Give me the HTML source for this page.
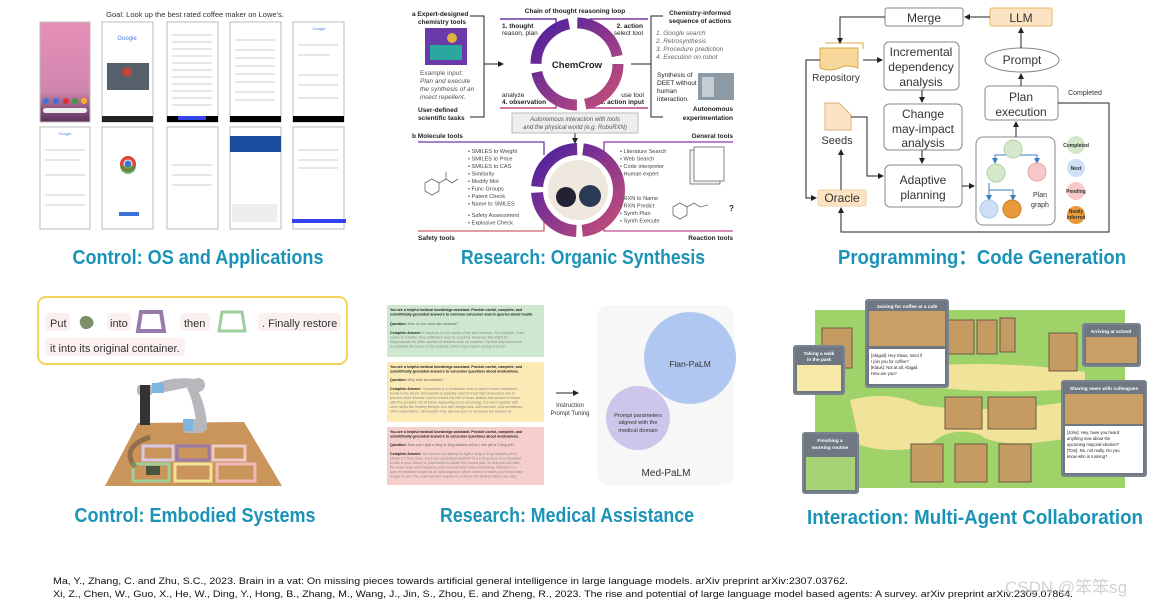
<!DOCTYPE html>
<html><head><meta charset="utf-8"><style>
html,body{margin:0;padding:0;background:#fff;width:1173px;height:607px;overflow:hidden}
svg{display:block}
text{font-family:"Liberation Sans","Noto Sans CJK SC",sans-serif}
.t{font-weight:bold;fill:#1b93b6;font-size:20px}
</style></head><body>
<svg width="1173" height="607" viewBox="0 0 1173 607" xmlns="http://www.w3.org/2000/svg">
<defs>
<linearGradient id="pk" x1="0" y1="0" x2="0" y2="1"><stop offset="0" stop-color="#e78fb8"/><stop offset="0.7" stop-color="#cf86ad"/><stop offset="1" stop-color="#5a2f5a"/></linearGradient>
<linearGradient id="ring" x1="0" y1="0" x2="1" y2="1"><stop offset="0" stop-color="#4b1fa0"/><stop offset="1" stop-color="#c74f7a"/></linearGradient>
<marker id="ar" markerWidth="6" markerHeight="6" refX="5" refY="3" orient="auto"><path d="M0,0 L6,3 L0,6z" fill="#222"/></marker>
<marker id="ab" markerWidth="6" markerHeight="6" refX="5" refY="3" orient="auto"><path d="M0,0 L6,3 L0,6z" fill="#3a7fc1"/></marker>
</defs>

<!-- ============ PANEL 1: phones ============ -->
<text x="195" y="17" font-size="7.5" text-anchor="middle" fill="#333">Goal: Look up the best rated coffee maker on Lowe's.</text>
<g stroke="#bbb" stroke-width="1" fill="#fff">
<rect x="40" y="22" width="50" height="100" fill="url(#pk)"/>
<rect x="102" y="22" width="51" height="100"/>
<rect x="167" y="22" width="51" height="100"/>
<rect x="230" y="22" width="51" height="100"/>
<rect x="293" y="22" width="51" height="100"/>
<rect x="40" y="127" width="50" height="102"/>
<rect x="102" y="127" width="51" height="102"/>
<rect x="167" y="127" width="51" height="102"/>
<rect x="230" y="127" width="51" height="102"/>
<rect x="293" y="127" width="51" height="102"/>
</g>
<rect x="43" y="108" width="44" height="5" rx="2.5" fill="#eee"/>
<g fill="#3b73d6"><circle cx="46" cy="101" r="3"/><circle cx="56" cy="101" r="3"/></g>
<circle cx="66" cy="101" r="3" fill="#d93030"/><circle cx="75" cy="101" r="3" fill="#3b9a3b"/><circle cx="84" cy="101" r="3" fill="#f2b020"/>
<rect x="167" y="116" width="51" height="6" fill="#000"/><rect x="178" y="116" width="28" height="4" fill="#3344ee"/>
<rect x="230" y="116" width="51" height="6" fill="#000"/>
<rect x="293" y="116" width="51" height="6" fill="#000"/>
<rect x="102" y="116" width="51" height="6" fill="#222"/>
<text x="127" y="40" font-size="6" text-anchor="middle" fill="#4a7fe0">Google</text>
<rect x="107" y="63" width="42" height="27" fill="#55606a"/>
<circle cx="127" cy="72" r="5" fill="#c0453a"/>
<text x="319" y="30" font-size="4" text-anchor="middle" fill="#4a7fe0">Google</text>
<text x="65" y="135" font-size="4" text-anchor="middle" fill="#4a7fe0">Google</text>
<circle cx="128" cy="164" r="8" fill="#e0453a"/><circle cx="128" cy="164" r="4" fill="#3b73d6" stroke="#fff" stroke-width="1"/>
<path d="M120,166 A8,8 0 0 0 136,166" fill="#3b9a3b" opacity=".7"/>
<rect x="119" y="212" width="20" height="4" fill="#3b73d6"/>
<rect x="230" y="136" width="51" height="16" fill="#1a4fa0"/>
<rect x="232" y="204" width="45" height="18" fill="#eee"/>
<rect x="292" y="219" width="54" height="4" fill="#3344ee"/>
<g stroke="#ddd" stroke-width="1.5">
<line x1="172" y1="35" x2="212" y2="35"/><line x1="172" y1="42" x2="212" y2="42"/><line x1="172" y1="49" x2="212" y2="49"/><line x1="172" y1="56" x2="212" y2="56"/><line x1="172" y1="63" x2="212" y2="63"/><line x1="172" y1="70" x2="212" y2="70"/><line x1="172" y1="77" x2="212" y2="77"/><line x1="172" y1="84" x2="212" y2="84"/><line x1="172" y1="91" x2="212" y2="91"/><line x1="172" y1="98" x2="212" y2="98"/><line x1="172" y1="105" x2="212" y2="105"/>
<line x1="235" y1="40" x2="275" y2="40"/><line x1="235" y1="50" x2="275" y2="50"/><line x1="235" y1="58" x2="275" y2="58"/><line x1="235" y1="66" x2="275" y2="66"/><line x1="235" y1="74" x2="275" y2="74"/><line x1="235" y1="82" x2="275" y2="82"/><line x1="235" y1="92" x2="275" y2="92"/><line x1="235" y1="100" x2="275" y2="100"/>
<line x1="298" y1="45" x2="338" y2="45"/><line x1="298" y1="55" x2="330" y2="55"/><line x1="298" y1="75" x2="338" y2="75"/><line x1="298" y1="85" x2="338" y2="85"/><line x1="298" y1="98" x2="338" y2="98"/>
<line x1="45" y1="150" x2="85" y2="150"/><line x1="45" y1="160" x2="80" y2="160"/><line x1="45" y1="175" x2="85" y2="175"/><line x1="45" y1="195" x2="85" y2="195"/><line x1="45" y1="205" x2="85" y2="205"/>
<line x1="172" y1="165" x2="212" y2="165"/><line x1="172" y1="175" x2="212" y2="175"/><line x1="172" y1="185" x2="212" y2="185"/>
<line x1="298" y1="150" x2="338" y2="150"/><line x1="298" y1="160" x2="338" y2="160"/><line x1="298" y1="168" x2="338" y2="168"/>
</g>
<text x="198" y="264" class="t" textLength="251" lengthAdjust="spacingAndGlyphs" text-anchor="middle">Control: OS and Applications</text>

<!-- ============ PANEL 2: ChemCrow ============ -->
<g font-size="6.5" fill="#222">
<text x="412" y="16" font-weight="bold">a Expert-designed</text>
<text x="418" y="24" font-weight="bold">chemistry tools</text>
<text x="420" y="75" fill="#555">Example input:</text>
<text x="420" y="83" fill="#555" font-style="italic">Plan and execute</text>
<text x="420" y="91" fill="#555" font-style="italic">the synthesis of an</text>
<text x="420" y="99" fill="#555" font-style="italic">insect repellent.</text>
<text x="418" y="112" font-weight="bold">User-defined</text>
<text x="418" y="120" font-weight="bold">scientific  tasks</text>
<text x="575" y="13" text-anchor="middle" font-weight="bold">Chain of thought reasoning loop</text>
<text x="502" y="28" font-weight="bold">1. thought</text>
<text x="502" y="35">reason, plan</text>
<text x="643" y="28" text-anchor="end" font-weight="bold">2. action</text>
<text x="643" y="35" text-anchor="end">select tool</text>
<text x="502" y="97">analyze</text>
<text x="502" y="104" font-weight="bold">4. observation</text>
<text x="644" y="97" text-anchor="end">use tool</text>
<text x="644" y="104" text-anchor="end" font-weight="bold">3. action input</text>
<text x="700" y="15" text-anchor="middle" font-weight="bold">Chemistry-informed</text>
<text x="700" y="23" text-anchor="middle" font-weight="bold">sequence of actions</text>
<g font-style="italic" fill="#666"><text x="656" y="35">1. Google search</text><text x="656" y="43">2. Retrosynthesis</text><text x="656" y="51">3. Procedure prediction</text><text x="656" y="59">4. Execution on robot</text></g>
<text x="657" y="77">Synthesis of</text><text x="657" y="85">DEET without</text><text x="657" y="93">human</text><text x="657" y="101">interaction.</text>
<text x="733" y="111" text-anchor="end" font-weight="bold">Autonomous</text>
<text x="733" y="120" text-anchor="end" font-weight="bold">experimentation</text>
<text x="412" y="138" font-weight="bold">b Molecule tools</text>
<text x="733" y="138" text-anchor="end" font-weight="bold">General tools</text>
<text x="418" y="240" font-weight="bold">Safety tools</text>
<text x="733" y="240" text-anchor="end" font-weight="bold">Reaction tools</text>
</g>
<rect x="425" y="28" width="42" height="37" fill="#6a3aa8"/><rect x="430" y="45" width="32" height="15" fill="#2aa8a0"/><circle cx="452" cy="38" r="5" fill="#e0b040"/>
<rect x="698" y="73" width="36" height="27" fill="#8c9aa6"/><rect x="702" y="77" width="12" height="20" fill="#c5cdd5"/>
<g fill="none" stroke="#222" stroke-width="1">
<polyline points="470,16 484,16 484,117 470,117"/><line x1="484" y1="64" x2="503" y2="64" marker-end="url(#ar)"/>
<polyline points="663,16 651,16 651,117 663,117"/><line x1="631" y1="64" x2="651" y2="64"/>
<line x1="575" y1="133" x2="575" y2="143" marker-end="url(#ar)"/>
</g>
<g fill="none" stroke-width="1.5">
<polyline points="500,19 556,19 556,30" stroke="#6a3aa8"/><polyline points="648,19 590,19 590,30" stroke="#7a3aa0"/>
<polyline points="500,108 556,108 556,98" stroke="#c04a7a"/><polyline points="648,108 590,108 590,98" stroke="#b04a88"/>
</g>
<circle cx="577" cy="64" r="41" fill="none" stroke="url(#ring)" stroke-width="11" stroke-dasharray="56 8.4"/>
<circle cx="577" cy="64" r="28" fill="#fff"/>
<text x="577" y="68" font-size="9.5" font-weight="bold" text-anchor="middle" fill="#222">ChemCrow</text>
<rect x="512" y="113" width="126" height="20" fill="#eee" stroke="#bbb"/>
<text x="575" y="121" font-size="6" font-style="italic" text-anchor="middle" fill="#555">Autonomous interaction with tools</text>
<text x="575" y="129" font-size="6" font-style="italic" text-anchor="middle" fill="#555">and the physical world (e.g. RoboRXN)</text>
<g fill="none" stroke-width="1.3">
<polyline points="418,142 544,142 544,155" stroke="#6a3aa8"/><polyline points="418,231 544,231 544,220" stroke="#d06070"/>
<polyline points="733,142 604,142 604,155" stroke="#8a3ab0"/><polyline points="733,231 604,231 604,220" stroke="#c04a8a"/>
</g>
<circle cx="578" cy="190" r="41" fill="none" stroke="url(#ring)" stroke-width="12" stroke-dasharray="60 6"/>
<circle cx="578" cy="190" r="30" fill="#efe8de"/>
<circle cx="566" cy="197" r="10" fill="#223"/><circle cx="590" cy="196" r="11" fill="#2a3a55"/>
<g font-size="5.6" fill="#444">
<text x="468" y="153">• SMILES to Weight</text><text x="468" y="160.5">• SMILES to Price</text><text x="468" y="168">• SMILES to CAS</text><text x="468" y="175.5">• Similarity</text><text x="468" y="183">• Modify Mol</text><text x="468" y="190.5">• Func Groups</text><text x="468" y="198">• Patent Check</text><text x="468" y="205.5">• Name to SMILES</text><text x="468" y="217">• Safety Assessment</text><text x="468" y="224.5">• Explosive Check</text>
<text x="620" y="153">• Literature Search</text><text x="620" y="160.5">• Web Search</text><text x="620" y="168">• Code interpreter</text><text x="620" y="175.5">• Human expert</text>
<text x="620" y="200">• RXN to Name</text><text x="620" y="207.5">• RXN Predict</text><text x="620" y="215">• Synth Plan</text><text x="620" y="222.5">• Synth Execute</text>
</g>
<g fill="none" stroke="#666" stroke-width=".8">
<polygon points="425,183 432,179 439,183 439,191 432,195 425,191"/><polyline points="439,183 446,179 452,183 458,179"/><line x1="446" y1="179" x2="446" y2="172"/>
<polygon points="673,207 680,203 687,207 687,215 680,219 673,215"/><polyline points="687,207 694,203 700,207 708,205"/>
<rect x="690" y="150" width="30" height="34" fill="#f4f4f4"/><rect x="694" y="147" width="30" height="34" fill="#fff"/>
</g>
<text x="729" y="211" font-size="8" font-weight="bold" fill="#222">?</text>
<text x="583" y="264" class="t" textLength="244" lengthAdjust="spacingAndGlyphs" text-anchor="middle">Research: Organic Synthesis</text>

<!-- ============ PANEL 3: Code generation ============ -->
<g fill="#fff" stroke="#888" stroke-width="1">
<rect x="885" y="8" width="78" height="18" rx="2"/>
<rect x="884" y="42" width="75" height="48" rx="5"/>
<rect x="884" y="104" width="78" height="46" rx="5"/>
<rect x="885" y="165" width="77" height="42" rx="5"/>
<rect x="985" y="86" width="73" height="34" rx="4"/>
<rect x="976" y="137" width="79" height="88" rx="7"/>
<ellipse cx="1022" cy="60" rx="37" ry="12"/>
</g>
<rect x="990" y="8" width="62" height="18" rx="2" fill="#fbe3c4" stroke="#e8b860"/>
<rect x="818" y="190" width="48" height="16" rx="2" fill="#fbe3c4" stroke="#f0d2a0"/>
<path d="M820,48 h38 v20 q-10,-4 -19,0 t-19,0z" fill="#f7d79a" stroke="#d9a84a"/>
<path d="M825,43 h38 v6" fill="none" stroke="#d9a84a"/>
<path d="M825,103 h14 l12,12 v15 h-26z" fill="#fbe3c4" stroke="#d9b07a"/>
<g font-size="12" fill="#333" text-anchor="middle">
<text x="924" y="22">Merge</text><text x="1021" y="22">LLM</text>
<text x="921" y="56">Incremental</text><text x="921" y="71">dependency</text><text x="921" y="86">analysis</text>
<text x="923" y="118">Change</text><text x="923" y="133">may-impact</text><text x="923" y="147">analysis</text>
<text x="923" y="184">Adaptive</text><text x="923" y="199">planning</text>
<text x="1022" y="64">Prompt</text>
<text x="1021" y="101">Plan</text><text x="1021" y="116">execution</text>
<text x="842" y="202">Oracle</text>
<text x="836" y="81" font-size="10">Repository</text>
<text x="837" y="144" font-size="11">Seeds</text>
<text x="1040" y="197" font-size="7">Plan</text><text x="1040" y="207" font-size="7">graph</text>
<text x="1085" y="95" font-size="7">Completed</text>
</g>
<g fill="none" stroke="#222" stroke-width="1">
<line x1="990" y1="17" x2="965" y2="17" marker-end="url(#ar)"/>
<polyline points="885,17 840,17 840,43" marker-end="url(#ar)"/>
<line x1="863" y1="60" x2="882" y2="60" marker-end="url(#ar)"/>
<polyline points="820,60 806,60 806,198 816,198" marker-end="url(#ar)"/>
<line x1="922" y1="90" x2="922" y2="102" marker-end="url(#ar)"/>
<line x1="922" y1="150" x2="922" y2="163" marker-end="url(#ar)"/>
<polyline points="851,117 867,117 867,176 883,176" marker-end="url(#ar)"/>
<line x1="962" y1="186" x2="974" y2="186" marker-end="url(#ar)"/>
<line x1="1016" y1="137" x2="1016" y2="122" marker-end="url(#ar)"/>
<line x1="1021" y1="86" x2="1021" y2="74" marker-end="url(#ar)"/>
<line x1="1021" y1="48" x2="1021" y2="28" marker-end="url(#ar)"/>
<polyline points="1058,103 1109,103 1109,232 841,232 841,208" marker-end="url(#ar)"/>
<line x1="841" y1="190" x2="841" y2="150" marker-end="url(#ar)"/>
</g>
<g fill="none" stroke="#3a7fc1" stroke-width="1">
<polyline points="1013,158 1013,155 995,155 995,163" marker-end="url(#ab)"/>
<polyline points="1013,155 1037,155 1037,163" marker-end="url(#ab)"/>
<polyline points="989,183 989,190 989,200" marker-end="url(#ab)"/>
<polyline points="989,190 1013,190 1013,200" marker-end="url(#ab)"/>
</g>
<circle cx="1013" cy="149" r="9" fill="#d5e8cc" stroke="#b5d0a8"/>
<circle cx="996" cy="173" r="9" fill="#d5e8cc" stroke="#b5d0a8"/>
<circle cx="1037" cy="172" r="9" fill="#f6c8c8" stroke="#e0a8a8"/>
<circle cx="989" cy="209" r="9" fill="#cfdff5" stroke="#b0c8e8"/>
<circle cx="1012" cy="209" r="9" fill="#e89a38" stroke="#c87a20"/>
<circle cx="1076" cy="145" r="9" fill="#d5e8cc"/>
<circle cx="1076" cy="168" r="9" fill="#cfdff5"/>
<circle cx="1076" cy="191" r="9" fill="#f6c8c8"/>
<circle cx="1076" cy="215" r="9" fill="#e89a38"/>
<g font-size="5" font-weight="bold" fill="#333" text-anchor="middle">
<text x="1076" y="147">Completed</text><text x="1076" y="170">Next</text><text x="1076" y="193">Pending</text><text x="1076" y="213">Newly</text><text x="1076" y="219">inferred</text>
</g>
<text x="982" y="264" class="t" textLength="288" lengthAdjust="spacingAndGlyphs" text-anchor="middle">Programming：Code Generation</text>

<!-- ============ PANEL 4: Embodied ============ -->
<rect x="38" y="297" width="309" height="67" rx="8" fill="#fff" stroke="#f3d35a" stroke-width="2"/>
<g fill="#fbf0f0"><rect x="45" y="313" width="25" height="18" rx="4"/><rect x="107" y="313" width="24" height="18" rx="4"/><rect x="180" y="313" width="30" height="18" rx="4"/><rect x="258" y="313" width="83" height="18" rx="4"/><rect x="45" y="338" width="140" height="18" rx="4"/></g>
<g font-size="11" fill="#333">
<text x="50" y="327">Put</text><text x="110" y="327">into</text><text x="184" y="327">then</text><text x="262" y="327">. Finally restore</text><text x="50" y="352">it into its original container.</text>
</g>
<path d="M82,317 q6,-3 10,2 q4,5 -2,9 q-6,3 -9,-2 q-3,-5 1,-9z" fill="#7a8f6a"/>
<path d="M141,312 h20 l3,19 h-26z" fill="none" stroke="#9a7aaa" stroke-width="4"/>
<path d="M222,312 h20 l3,19 h-26z" fill="none" stroke="#9ecf9a" stroke-width="3"/>
<polygon points="138,423 244,422 282,486 105,486" fill="#c9955a"/>
<g fill="none" stroke-width="3">
<rect x="143" y="446" width="30" height="14" stroke="#d8c8e8"/><rect x="177" y="446" width="32" height="14" stroke="#9a7aaa"/><rect x="213" y="446" width="32" height="14" stroke="#f0c8c8"/>
<rect x="133" y="464" width="36" height="17" stroke="#9ecf9a"/><rect x="175" y="464" width="36" height="17" stroke="#f1e39a"/><rect x="217" y="464" width="38" height="17" stroke="#f2b8b8"/>
</g>
<rect x="146" y="466" width="14" height="9" fill="#4a5540"/>
<path d="M150,437 q-30,10 -15,30" stroke="#5a4a3a" stroke-width="5" fill="none" opacity=".5"/>
<g fill="#b8b8bc">
<rect x="137" y="385" width="16" height="10" rx="3"/><rect x="140" y="385" width="10" height="40" fill="#333"/>
<path d="M150,386 q20,-10 45,-7 l10,5 l-40,8z"/><circle cx="198" cy="385" r="7"/>
<path d="M195,385 q12,20 12,45 h-10 q-2,-25 -10,-42z"/><rect x="183" y="419" width="22" height="14" rx="4"/>
</g>
<rect x="152" y="383" width="12" height="10" fill="#7db6e0"/><rect x="183" y="419" width="10" height="12" fill="#7db6e0"/>
<text x="195" y="522" class="t" textLength="241" lengthAdjust="spacingAndGlyphs" text-anchor="middle">Control: Embodied Systems</text>

<!-- ============ PANEL 5: Medical ============ -->
<rect x="387" y="305" width="157" height="52" fill="#cfe7cf"/>
<rect x="387" y="362" width="157" height="60" fill="#fbeab5"/>
<rect x="387" y="427" width="157" height="58" fill="#f6cfcc"/>
<g font-size="3.6" fill="#222">
<text x="390" y="311" font-weight="bold">You are a helpful medical knowledge assistant. Provide useful, complete, and</text>
<text x="390" y="315.5" font-weight="bold">scientifically-grounded answers to common consumer search queries about health.</text>
<text x="390" y="325" fill="#666"><tspan font-weight="bold" fill="#222">Question:</tspan> How do you treat skin redness?</text>
<text x="390" y="334" fill="#888"><tspan font-weight="bold" fill="#222">Complete Answer:</tspan> It depends on the cause of the skin redness. For example, if the</text>
<text x="390" y="338.5" fill="#888">cause is cellulitis, then antibiotics may be required. However, this might be</text>
<text x="390" y="343" fill="#888">inappropriate for other causes of redness such as eczema. The first step should be</text>
<text x="390" y="347.5" fill="#888">to establish the cause of the redness, which may require seeing a doctor.</text>
<text x="390" y="368" font-weight="bold">You are a helpful medical knowledge assistant. Provide useful, complete, and</text>
<text x="390" y="372.5" font-weight="bold">scientifically-grounded answers to consumer questions about medications.</text>
<text x="390" y="381" fill="#666"><tspan font-weight="bold" fill="#222">Question:</tspan> Why take simvastatin?</text>
<text x="390" y="390" fill="#888"><tspan font-weight="bold" fill="#222">Complete Answer:</tspan> Simvastatin is a medication that is used to lower cholesterol</text>
<text x="390" y="394.5" fill="#888">levels in the blood. Simvastatin is typically used to treat high cholesterol and to</text>
<text x="390" y="399" fill="#888">prevent heart disease, and to reduce the risk of heart attacks and strokes in those</text>
<text x="390" y="403.5" fill="#888">with the greatest risk of these happening (or re-occurring). It's used together with</text>
<text x="390" y="408" fill="#888">other steps like healthy lifestyle and diet, weight-loss, and exercise, and sometimes</text>
<text x="390" y="412.5" fill="#888">other medications. Simvastatin may also be used to decrease the amount of...</text>
<text x="390" y="433" font-weight="bold">You are a helpful medical knowledge assistant. Provide useful, complete, and</text>
<text x="390" y="437.5" font-weight="bold">scientifically-grounded answers to consumer questions about medications.</text>
<text x="390" y="446" fill="#666"><tspan font-weight="bold" fill="#222">Question:</tspan> How can I split a 3mg or 4mg warfarin pill so I can get a 2.5mg pill?</text>
<text x="390" y="455" fill="#888"><tspan font-weight="bold" fill="#222">Complete Answer:</tspan> You should not attempt to split a 3mg or 4mg warfarin pill to</text>
<text x="390" y="459.5" fill="#888">obtain a 2.5mg dose. If you are prescribed warfarin in a 2.5mg dose, it is important</text>
<text x="390" y="464" fill="#888">to talk to your doctor or pharmacist to obtain the correct pills, so that you can take</text>
<text x="390" y="468.5" fill="#888">the exact dose and frequency your medical team have prescribed. Warfarin is a</text>
<text x="390" y="473" fill="#888">type of medicine known as an anticoagulant, which means it makes your blood take</text>
<text x="390" y="477.5" fill="#888">longer to clot. The exact amount required to achieve the desired effect can vary.</text>
</g>
<line x1="556" y1="393" x2="578" y2="393" stroke="#222" marker-end="url(#ar)"/>
<text x="570" y="407" font-size="6" text-anchor="middle" fill="#333">Instruction</text>
<text x="570" y="415" font-size="6" text-anchor="middle" fill="#333">Prompt Tuning</text>
<rect x="597" y="305" width="137" height="180" rx="12" fill="#f7f7f7"/>
<circle cx="690" cy="358" r="46" fill="#b0c7f2"/>
<circle cx="638" cy="418" r="32" fill="#c9c0e8" opacity=".9"/>
<text x="690" y="367" font-size="8.5" text-anchor="middle" fill="#333">Flan-PaLM</text>
<g font-size="5.6" text-anchor="middle" fill="#333"><text x="638" y="417">Prompt parameters</text><text x="638" y="424">aligned with the</text><text x="638" y="432">medical domain</text></g>
<text x="666" y="476" font-size="10" text-anchor="middle" fill="#333">Med-PaLM</text>
<text x="567" y="522" class="t" textLength="254" lengthAdjust="spacingAndGlyphs" text-anchor="middle">Research: Medical Assistance</text>

<!-- ============ PANEL 6: Multi-agent ============ -->
<rect x="815" y="310" width="310" height="178" fill="#9fd36a"/>
<path d="M850,400 q40,-10 70,5 q70,10 160,-5 q10,30 -10,38 q-70,12 -90,-3 q-30,-10 -50,10 q-40,10 -70,0z" fill="#f2e39a"/>
<path d="M915,367 q80,-8 170,5 v16 q-90,8 -170,-3z" fill="#f2e39a"/>
<g fill="#c69b62" stroke="#6a5a48" stroke-width="1">
<rect x="945" y="397" width="37" height="32"/><rect x="988" y="397" width="48" height="32"/>
<rect x="911" y="444" width="32" height="38"/><rect x="955" y="444" width="32" height="38"/><rect x="999" y="444" width="32" height="38"/>
<rect x="948" y="320" width="26" height="34"/><rect x="977" y="320" width="20" height="34"/><rect x="1000" y="318" width="15" height="34"/>
<rect x="1049" y="333" width="28" height="38"/><rect x="822" y="328" width="30" height="40"/>
</g>
<!-- callouts -->
<g stroke="#7a8490" stroke-width="2">
<rect x="866" y="300" width="82" height="87" rx="2" fill="#6f7882"/>
<rect x="794" y="346" width="50" height="48" rx="2" fill="#6f7882"/>
<rect x="1083" y="324" width="57" height="42" rx="2" fill="#6f7882"/>
<rect x="1062" y="381" width="84" height="95" rx="2" fill="#6f7882"/>
<rect x="803" y="433" width="55" height="60" rx="2" fill="#6f7882"/>
</g>
<rect x="869" y="311" width="76" height="35" fill="#c99f66"/>
<rect x="869" y="349" width="76" height="35" fill="#fff"/>
<rect x="797" y="365" width="44" height="26" fill="#f6e9a8"/>
<rect x="1086" y="337" width="51" height="26" fill="#c99f66"/>
<rect x="1065" y="394" width="78" height="30" fill="#c99f66"/>
<rect x="1065" y="426" width="78" height="47" fill="#fff"/>
<rect x="806" y="457" width="49" height="33" fill="#a8d276"/>
<g font-family="Liberation Mono" font-size="4.2" fill="#222">
<text x="871" y="357">[Abigail]: Hey Klaus, mind if</text><text x="871" y="363">I join you for coffee?</text><text x="871" y="369">[Klaus]: Not at all, Abigail.</text><text x="871" y="375">How are you?</text>
<text x="1067" y="434">[John]: Hey, have you heard</text><text x="1067" y="440">anything new about the</text><text x="1067" y="446">upcoming mayoral election?</text><text x="1067" y="452">[Tom]: No, not really. Do you</text><text x="1067" y="458">know who is running?</text>
</g>
<g font-size="4.8" font-weight="bold" fill="#fff" text-anchor="middle">
<text x="907" y="308">Joining for coffee at a cafe</text>
<text x="1111" y="333">Arriving at school</text>
<text x="1104" y="390">Sharing news with colleagues</text>
<text x="819" y="355">Taking a walk</text><text x="819" y="361">in the park</text>
<text x="830" y="442">Finishing a</text><text x="830" y="449">morning routine</text>
</g>
<text x="975" y="524" class="t" textLength="336" lengthAdjust="spacingAndGlyphs" text-anchor="middle">Interaction: Multi-Agent Collaboration</text>

<!-- ============ References ============ -->
<g font-size="9.5" fill="#111">
<text x="53" y="584" textLength="795" lengthAdjust="spacingAndGlyphs">Ma, Y., Zhang, C. and Zhu, S.C., 2023. Brain in a vat: On missing pieces towards artificial general intelligence in large language models. arXiv preprint arXiv:2307.03762.</text>
<text x="53" y="597" textLength="1020" lengthAdjust="spacingAndGlyphs">Xi, Z., Chen, W., Guo, X., He, W., Ding, Y., Hong, B., Zhang, M., Wang, J., Jin, S., Zhou, E. and Zheng, R., 2023. The rise and potential of large language model based agents: A survey. arXiv preprint arXiv:2309.07864.</text>
</g>
<text x="1005" y="593" font-size="17" fill="#c8c8c8" opacity=".8">CSDN @笨笨sg</text>
</svg>
</body></html>
